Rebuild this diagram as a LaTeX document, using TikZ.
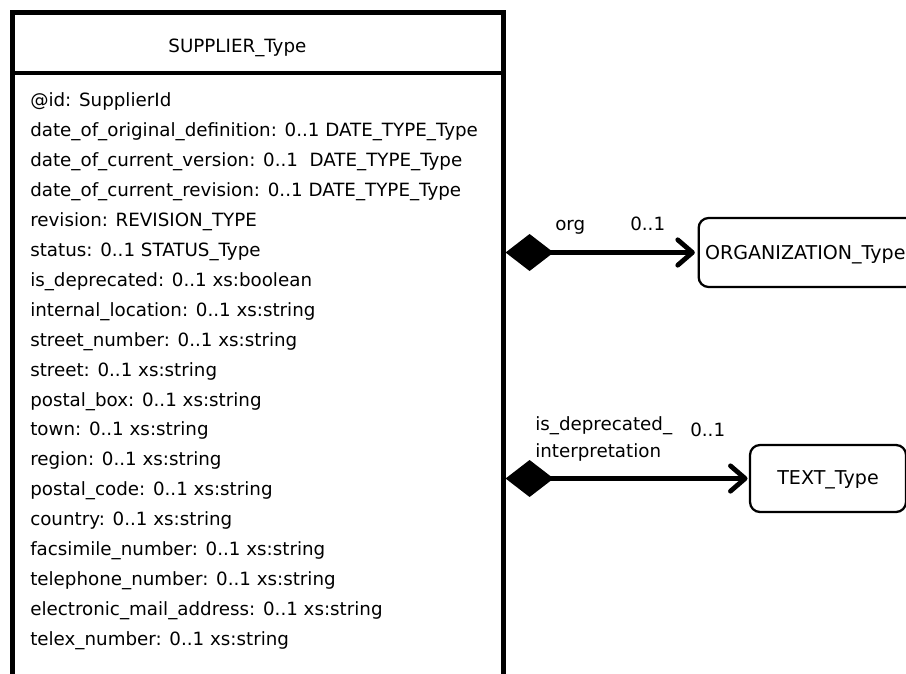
\documentclass[tikz,border=0pt]{standalone}
\usepackage{fontspec}
\setmainfont{DejaVu Sans}
\usetikzlibrary{arrows.meta}
\begin{document}
\begin{tikzpicture}[x=0.75pt,y=-0.75pt,
  every node/.style={font=\fontsize{13.7pt}{16pt}\selectfont, inner sep=0pt},
  thickline/.style={line width=3.4pt},
  typebox/.style={draw, line width=1.7pt, rounded corners=7.5pt, font=\fontsize{14.3pt}{17pt}\selectfont, text height=10.4pt, text depth=0pt},
  attr/.style={anchor=base west},
  lbl/.style={anchor=base west},
  assoc/.style={line width=3.6pt, {Diamond[length=36pt,width=27.75pt]}-{Straight Barb[length=11pt,width=19pt,round]}}]
\useasboundingbox (0,0) rectangle (906,674);
\clip (0,0) rectangle (906,674);
% main class box (open at the bottom)
\node[minimum width=367.9pt, minimum height=496.1pt, anchor=north west] (supplier) at (12.25,12.5) {};
\coordinate (hdr) at (0,73);
\draw[thickline] (supplier.south west) -- (supplier.north west) -- (supplier.north east) -- (supplier.south east);
\draw[thickline] (supplier.west |- hdr) -- (supplier.east |- hdr);
\node[anchor=base] (title) at (237.4,53) {SUPPLIER\_Type};
\foreach \t [count=\i from 0] in {
  @id: SupplierId,
  date\_of\_original\_definition: 0..1 DATE\_TYPE\_Type,
  date\_of\_current\_version: 0..1~ DATE\_TYPE\_Type,
  date\_of\_current\_revision: 0..1 DATE\_TYPE\_Type,
  revision: REVISION\_TYPE,
  status: 0..1 STATUS\_Type,
  is\_deprecated: 0..1 xs:boolean,
  internal\_location: 0..1 xs:string,
  street\_number: 0..1 xs:string,
  street: 0..1 xs:string,
  postal\_box: 0..1 xs:string,
  town: 0..1 xs:string,
  region: 0..1 xs:string,
  postal\_code: 0..1 xs:string,
  country: 0..1 xs:string,
  facsimile\_number: 0..1 xs:string,
  telephone\_number: 0..1 xs:string,
  electronic\_mail\_address: 0..1 xs:string,
  telex\_number: 0..1 xs:string}
  \node[attr] (attr\i) at (30, 107+29.9*\i) {\t};
% target types
\node[typebox, anchor=west, minimum height=51.75pt, text width=172pt, inner xsep=4.8pt, align=left] (org) at (697.5,252.5) {ORGANIZATION\_Type};
\node[typebox, minimum width=117pt, minimum height=50.25pt, text depth=1.5pt] (text) at (828,478.5) {TEXT\_Type};
% associations
\draw[assoc] ([xshift=1.7pt]supplier.east |- org.west) -- ([xshift=-2pt]org.west);
\draw[assoc] ([xshift=1.7pt]supplier.east |- text.west) -- ([xshift=-1pt]text.west);
% labels
\node[lbl] (orgname) at (555,230) {org};
\node[lbl] (orgmult) at (630,230) {0..1};
\node[anchor=north west, align=left, font=\fontsize{13.7pt}{20.25pt}\selectfont] (depname) at (535,416.1) {is\_deprecated\_\\interpretation};
\node[lbl] (depmult) at (690,436) {0..1};
\end{tikzpicture}
\end{document}
